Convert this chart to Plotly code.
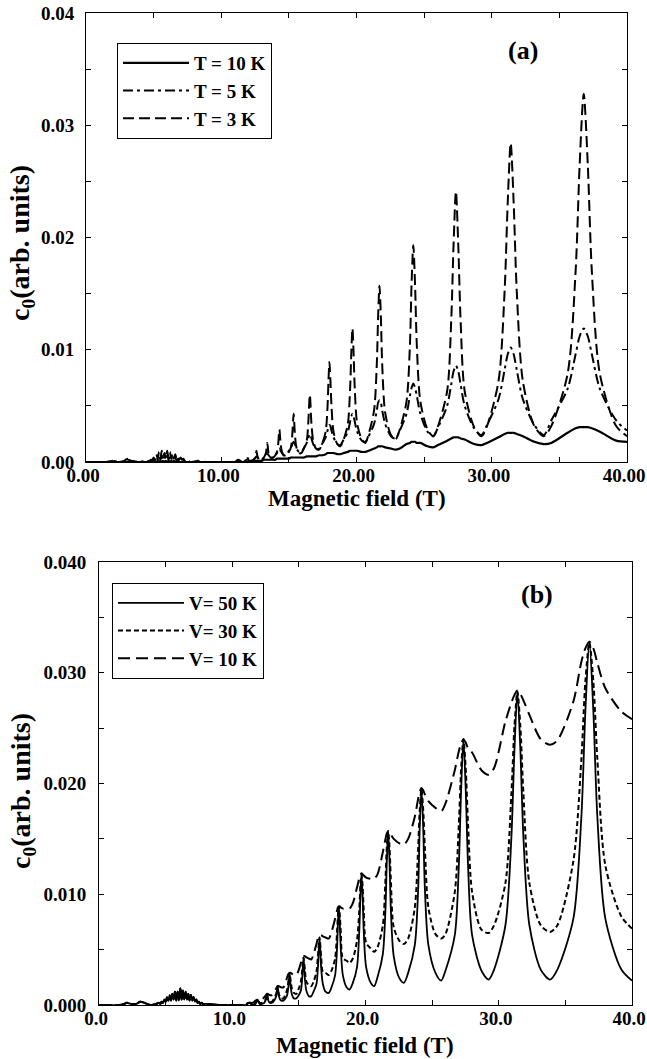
import plotly.graph_objects as go

# Magnetic field grid (T), shared by every curve
field_T = [
    0.0, 1.5, 1.9, 2.1, 2.4, 2.8, 3.1, 3.4, 3.9, 4.3,
    4.5, 4.6, 4.7, 4.8, 4.9, 5.0, 5.1, 5.2, 5.3, 5.4, 5.5, 5.6, 5.7, 5.8, 5.9, 6.0, 6.1,
    6.2, 6.3, 6.4, 6.5, 6.6, 6.7, 6.8, 6.9, 7.0, 7.1, 7.2, 7.3, 7.4, 7.5, 7.6, 7.7, 7.8,
    8.2, 9.0, 10.0, 10.5, 11.0, 11.25, 11.55, 11.75, 11.9, 12.05,
    12.23, 12.4, 12.53, 12.6, 12.68, 12.8, 12.99, 13.15, 13.3, 13.4, 13.5, 13.65,
    13.84, 14.0, 14.12, 14.21, 14.3, 14.39, 14.49, 14.62,
    14.81, 15.0, 15.15, 15.25, 15.35, 15.45, 15.56, 15.75,
    15.93, 16.1, 16.32, 16.43, 16.55, 16.67, 16.8, 17.0,
    17.24, 17.45, 17.72, 17.86, 17.93, 18.0, 18.07, 18.15, 18.3, 18.58,
    18.8, 19.05, 19.36, 19.53, 19.62, 19.7, 19.78, 19.87, 20.05, 20.4,
    20.65, 20.9, 21.3, 21.5, 21.6, 21.7, 21.8, 21.9, 22.12, 22.55,
    22.88, 23.2, 23.7, 23.95, 24.07, 24.2, 24.33, 24.46, 24.72, 25.25,
    25.68, 26.0, 26.7, 27.0, 27.18, 27.35, 27.52, 27.7, 28.0, 28.7,
    29.24, 29.65, 30.5, 30.95, 31.18, 31.4, 31.62, 31.85, 32.3, 33.15,
    33.85, 34.4, 35.6, 36.2, 36.5, 36.8, 37.1, 37.4, 38.0, 39.2, 40.0,
]

# Panel (a): temperature series
c0_T10 = [
    0, 0, 0, 0, 0, 0, 0, 0, 0, 0,
    0, 0, 0, 0, 0, 0, 0, 0, 0.0001, 0, 0.0001, 0, 0.0001, 0, 0.0001, 0, 0.0001,
    0, 0.0001, 0, 0.0001, 0, 0, 0, 0, 0, 0, 0, 0, 0, 0, 0, 0, 0,
    0, 0, 0, 0, 0, 0, 0, 0, 0, 0.0001,
    0.0001, 0.0001, 0.0001, 0.0001, 0.0001, 0.0001, 0.0001, 0.0002, 0.0002, 0.0002, 0.0002, 0.0002,
    0.0002, 0.0002, 0.0003, 0.0003, 0.0003, 0.0003, 0.0003, 0.0003,
    0.0003, 0.0003, 0.0004, 0.0004, 0.0004, 0.0004, 0.0004, 0.0004,
    0.0004, 0.0004, 0.0005, 0.0005, 0.0005, 0.0005, 0.0005, 0.0005,
    0.0006, 0.0006, 0.0007, 0.0008, 0.0008, 0.0008, 0.0008, 0.0008, 0.0008, 0.0007,
    0.0007, 0.0008, 0.0009, 0.0010, 0.0010, 0.0010, 0.0010, 0.0010, 0.0010, 0.0009,
    0.0009, 0.0010, 0.0012, 0.0013, 0.0014, 0.0014, 0.0014, 0.0014, 0.0013, 0.0012,
    0.0011, 0.0012, 0.0016, 0.0017, 0.0018, 0.0018, 0.0018, 0.0017, 0.0017, 0.0014,
    0.0013, 0.0015, 0.0019, 0.0021, 0.0022, 0.0022, 0.0022, 0.0021, 0.0020, 0.0016,
    0.0015, 0.0017, 0.0022, 0.0025, 0.0026, 0.0026, 0.0026, 0.0025, 0.0023, 0.0018,
    0.0016, 0.0017, 0.0026, 0.0030, 0.0031, 0.0031, 0.0031, 0.0030, 0.0027, 0.0019, 0.0018,
]

c0_T5 = [
    0, 0, 0, 0.0001, 0, 0, 0.0002, 0.0001, 0, 0,
    0, 0.0001, 0, 0.0001, 0.0001, 0.0002, 0.0001, 0.0004, 0.0002, 0.0005, 0.0002, 0.0006, 0.0002, 0.0005, 0.0002, 0.0006, 0.0002,
    0.0005, 0.0002, 0.0004, 0.0002, 0.0004, 0.0001, 0.0003, 0.0001, 0.0002, 0.0001, 0.0001, 0.0001, 0, 0, 0, 0, 0,
    0, 0, 0, 0, 0, 0.0001, 0, 0.0001, 0.0002, 0.0001,
    0.0001, 0.0002, 0.0004, 0.0005, 0.0004, 0.0002, 0.0002, 0.0004, 0.0006, 0.0008, 0.0006, 0.0004,
    0.0004, 0.0006, 0.0008, 0.0010, 0.0012, 0.0010, 0.0008, 0.0006,
    0.0006, 0.0010, 0.0012, 0.0016, 0.0018, 0.0016, 0.0012, 0.0009,
    0.0009, 0.0012, 0.0017, 0.0021, 0.0025, 0.0021, 0.0016, 0.0012,
    0.0012, 0.0016, 0.0022, 0.0028, 0.0032, 0.0033, 0.0032, 0.0028, 0.0022, 0.0016,
    0.0015, 0.0020, 0.0027, 0.0036, 0.0041, 0.0043, 0.0041, 0.0036, 0.0027, 0.0019,
    0.0018, 0.0023, 0.0034, 0.0046, 0.0053, 0.0055, 0.0053, 0.0046, 0.0034, 0.0023,
    0.0021, 0.0028, 0.0043, 0.0059, 0.0066, 0.0070, 0.0066, 0.0059, 0.0043, 0.0027,
    0.0023, 0.0030, 0.0050, 0.0069, 0.0081, 0.0086, 0.0081, 0.0069, 0.0050, 0.0030,
    0.0024, 0.0033, 0.0056, 0.0082, 0.0096, 0.0102, 0.0096, 0.0082, 0.0056, 0.0033,
    0.0024, 0.0037, 0.0065, 0.0096, 0.0112, 0.0119, 0.0112, 0.0096, 0.0065, 0.0037, 0.0028,
]

c0_T3 = [
    0, 0, 0.0001, 0.0001, 0, 0.0001, 0.0003, 0.0001, 0, 0.0001,
    0.0001, 0.0001, 0.0001, 0.0002, 0.0002, 0.0004, 0.0002, 0.0007, 0.0003, 0.0009, 0.0003, 0.0010, 0.0004, 0.0008, 0.0003, 0.0010, 0.0004,
    0.0009, 0.0003, 0.0008, 0.0003, 0.0007, 0.0003, 0.0005, 0.0002, 0.0004, 0.0002, 0.0003, 0.0001, 0.0001, 0.0001, 0.0001, 0, 0,
    0.0001, 0, 0, 0, 0, 0.0002, 0, 0.0001, 0.0005, 0.0001,
    0.0001, 0.0002, 0.0005, 0.0010, 0.0005, 0.0002, 0.0002, 0.0004, 0.0008, 0.0017, 0.0008, 0.0004,
    0.0004, 0.0006, 0.0009, 0.0016, 0.0029, 0.0016, 0.0009, 0.0006,
    0.0006, 0.0009, 0.0013, 0.0024, 0.0043, 0.0024, 0.0013, 0.0008,
    0.0008, 0.0012, 0.0019, 0.0034, 0.0060, 0.0034, 0.0019, 0.0012,
    0.0011, 0.0016, 0.0027, 0.0050, 0.0073, 0.0089, 0.0073, 0.0050, 0.0027, 0.0016,
    0.0014, 0.0020, 0.0034, 0.0066, 0.0099, 0.0119, 0.0099, 0.0066, 0.0034, 0.0020,
    0.0017, 0.0025, 0.0046, 0.0087, 0.0130, 0.0157, 0.0130, 0.0087, 0.0044, 0.0024,
    0.0020, 0.0029, 0.0054, 0.0104, 0.0158, 0.0193, 0.0158, 0.0104, 0.0054, 0.0029,
    0.0023, 0.0031, 0.0063, 0.0125, 0.0195, 0.0241, 0.0195, 0.0125, 0.0063, 0.0031,
    0.0023, 0.0032, 0.0072, 0.0152, 0.0231, 0.0284, 0.0231, 0.0152, 0.0072, 0.0032,
    0.0023, 0.0032, 0.0078, 0.0170, 0.0265, 0.0328, 0.0265, 0.0170, 0.0078, 0.0032, 0.0023,
]

# Panel (b): V series
c0_V50 = [
    0, 0, 0.0001, 0.0002, 0.0001, 0.0001, 0.0003, 0.0002, 0, 0.0001,
    0.0002, 0.0001, 0.0003, 0.0002, 0.0005, 0.0003, 0.0007, 0.0004, 0.0009, 0.0004, 0.0010, 0.0005, 0.0012, 0.0004, 0.0012, 0.0004, 0.0015,
    0.0005, 0.0013, 0.0005, 0.0012, 0.0005, 0.0010, 0.0004, 0.0009, 0.0004, 0.0007, 0.0003, 0.0005, 0.0002, 0.0003, 0.0001, 0.0002, 0.0001,
    0.0001, 0, 0, 0, 0, 0.0002, 0, 0.0001, 0.0005, 0.0001,
    0.0001, 0.0002, 0.0005, 0.0010, 0.0005, 0.0002, 0.0002, 0.0004, 0.0008, 0.0017, 0.0008, 0.0004,
    0.0004, 0.0006, 0.0009, 0.0016, 0.0029, 0.0016, 0.0009, 0.0006,
    0.0006, 0.0009, 0.0013, 0.0024, 0.0043, 0.0024, 0.0013, 0.0008,
    0.0008, 0.0012, 0.0019, 0.0034, 0.0061, 0.0034, 0.0019, 0.0012,
    0.0011, 0.0016, 0.0027, 0.0050, 0.0073, 0.0089, 0.0073, 0.0050, 0.0027, 0.0016,
    0.0014, 0.0020, 0.0034, 0.0066, 0.0099, 0.0118, 0.0099, 0.0066, 0.0034, 0.0020,
    0.0017, 0.0025, 0.0046, 0.0087, 0.0130, 0.0157, 0.0130, 0.0087, 0.0044, 0.0024,
    0.0020, 0.0029, 0.0054, 0.0104, 0.0160, 0.0195, 0.0160, 0.0104, 0.0054, 0.0029,
    0.0022, 0.0031, 0.0063, 0.0125, 0.0195, 0.0240, 0.0195, 0.0125, 0.0063, 0.0031,
    0.0023, 0.0032, 0.0072, 0.0152, 0.0231, 0.0283, 0.0231, 0.0152, 0.0072, 0.0032,
    0.0023, 0.0032, 0.0078, 0.0170, 0.0265, 0.0328, 0.0265, 0.0170, 0.0078, 0.0032, 0.0022,
]

c0_V30 = [
    0, 0, 0.0001, 0.0002, 0.0001, 0.0001, 0.0003, 0.0002, 0, 0.0001,
    0.0002, 0.0001, 0.0003, 0.0002, 0.0005, 0.0003, 0.0007, 0.0004, 0.0009, 0.0004, 0.0010, 0.0005, 0.0012, 0.0004, 0.0012, 0.0004, 0.0015,
    0.0005, 0.0013, 0.0005, 0.0012, 0.0005, 0.0010, 0.0004, 0.0009, 0.0004, 0.0007, 0.0003, 0.0005, 0.0002, 0.0003, 0.0001, 0.0002, 0.0001,
    0.0001, 0, 0, 0, 0, 0.0002, 0.0001, 0.0002, 0.0005, 0.0002,
    0.0002, 0.0003, 0.0006, 0.0010, 0.0006, 0.0003, 0.0003, 0.0006, 0.0010, 0.0017, 0.0010, 0.0006,
    0.0006, 0.0010, 0.0014, 0.0021, 0.0029, 0.0021, 0.0014, 0.0011,
    0.0010, 0.0015, 0.0021, 0.0032, 0.0043, 0.0032, 0.0021, 0.0018,
    0.0017, 0.0021, 0.0030, 0.0044, 0.0061, 0.0044, 0.0030, 0.0029,
    0.0027, 0.0031, 0.0042, 0.0065, 0.0081, 0.0089, 0.0081, 0.0065, 0.0042, 0.0040,
    0.0038, 0.0042, 0.0058, 0.0085, 0.0108, 0.0118, 0.0108, 0.0085, 0.0056, 0.0051,
    0.0048, 0.0052, 0.0072, 0.0114, 0.0143, 0.0157, 0.0143, 0.0114, 0.0070, 0.0058,
    0.0055, 0.0060, 0.0088, 0.0141, 0.0176, 0.0195, 0.0176, 0.0141, 0.0088, 0.0064,
    0.0060, 0.0064, 0.0102, 0.0162, 0.0214, 0.0240, 0.0214, 0.0162, 0.0102, 0.0068,
    0.0065, 0.0072, 0.0110, 0.0191, 0.0252, 0.0283, 0.0252, 0.0191, 0.0110, 0.0072,
    0.0066, 0.0072, 0.0130, 0.0222, 0.0292, 0.0327, 0.0292, 0.0222, 0.0126, 0.0080, 0.0069,
]

c0_V10 = [
    0, 0, 0.0001, 0.0002, 0.0001, 0.0001, 0.0003, 0.0002, 0, 0.0001,
    0.0002, 0.0001, 0.0003, 0.0002, 0.0005, 0.0003, 0.0007, 0.0004, 0.0009, 0.0004, 0.0010, 0.0005, 0.0012, 0.0004, 0.0012, 0.0004, 0.0015,
    0.0005, 0.0013, 0.0005, 0.0012, 0.0005, 0.0010, 0.0004, 0.0009, 0.0004, 0.0007, 0.0003, 0.0005, 0.0002, 0.0003, 0.0001, 0.0002, 0.0001,
    0.0001, 0, 0, 0, 0.0001, 0.0002, 0.0002, 0.0004, 0.0005, 0.0005,
    0.0005, 0.0007, 0.0009, 0.0010, 0.0010, 0.0009, 0.0009, 0.0012, 0.0015, 0.0017, 0.0017, 0.0016,
    0.0016, 0.0020, 0.0025, 0.0028, 0.0029, 0.0029, 0.0028, 0.0027,
    0.0027, 0.0032, 0.0038, 0.0042, 0.0044, 0.0044, 0.0043, 0.0042,
    0.0041, 0.0046, 0.0055, 0.0060, 0.0063, 0.0063, 0.0062, 0.0061,
    0.0060, 0.0066, 0.0078, 0.0085, 0.0088, 0.0089, 0.0089, 0.0088, 0.0087, 0.0087,
    0.0087, 0.0092, 0.0106, 0.0114, 0.0117, 0.0119, 0.0118, 0.0117, 0.0115, 0.0114,
    0.0114, 0.0118, 0.0138, 0.0150, 0.0155, 0.0157, 0.0156, 0.0154, 0.0150, 0.0146,
    0.0145, 0.0150, 0.0170, 0.0186, 0.0192, 0.0196, 0.0194, 0.0190, 0.0184, 0.0178,
    0.0175, 0.0182, 0.0212, 0.0229, 0.0236, 0.0240, 0.0237, 0.0232, 0.0228, 0.0212,
    0.0208, 0.0214, 0.0256, 0.0273, 0.0280, 0.0284, 0.0281, 0.0275, 0.0262, 0.0240,
    0.0235, 0.0239, 0.0274, 0.0310, 0.0322, 0.0328, 0.0322, 0.0309, 0.0286, 0.0265, 0.0258,
]

for s in (c0_T10, c0_T5, c0_T3, c0_V50, c0_V30, c0_V10):
    assert len(s) == len(field_T), len(s)

FONT = "Liberation Serif"
W, H = 647, 1059

fig = go.Figure()

series_a = [
    ("T = 10 K", c0_T10, "solid", 2.2),
    ("T = 5 K", c0_T5, "10px,4px,3px,4px", 2.0),
    ("T = 3 K", c0_T3, "11px,5px", 2.0),
]
series_b = [
    ("V= 50 K", c0_V50, "solid", 1.8),
    ("V= 30 K", c0_V30, "5px,3px", 2.0),
    ("V= 10 K", c0_V10, "12px,6px", 2.0),
]
for name, ys, dash, lw in series_a:
    fig.add_trace(go.Scatter(x=field_T, y=ys, name=name, mode="lines",
                             line=dict(color="black", width=lw, dash=dash, shape="spline", smoothing=0.8),
                             xaxis="x", yaxis="y", legend="legend"))
for name, ys, dash, lw in series_b:
    fig.add_trace(go.Scatter(x=field_T, y=ys, name=name, mode="lines",
                             line=dict(color="black", width=lw, dash=dash, shape="spline", smoothing=0.8),
                             xaxis="x2", yaxis="y2", legend="legend2"))

tickfont = dict(family=FONT, size=19, color="black", weight="bold")
common = dict(showline=True, linecolor="black", linewidth=1, mirror="ticks",
              ticks="inside", ticklen=5, tickwidth=1, tickcolor="black",
              minor=dict(ticks="inside", ticklen=5, tickwidth=1, tickcolor="black", showgrid=False),
              showgrid=False, zeroline=False, tickfont=tickfont, automargin=False,
              ticklabeloverflow="allow")

legend_font = dict(family=FONT, size=19, color="black", weight="bold")
fig.update_layout(
    width=W, height=H,
    margin=dict(l=0, r=0, t=0, b=0),
    paper_bgcolor="white", plot_bgcolor="white",
    xaxis=dict(domain=[86 / W, 627 / W], range=[0, 40], anchor="y",
               tick0=0, dtick=10, tickformat=".2f", ticklabelstandoff=-4, **common),
    yaxis=dict(domain=[1 - 462 / H, 1 - 13 / H], range=[0, 0.04], anchor="x",
               tick0=0, dtick=0.01, tickformat=".2f", ticklabelstandoff=7, **common),
    xaxis2=dict(domain=[99 / W, 632 / W], range=[0, 40], anchor="y2",
                tick0=0, dtick=10, tickformat=".1f", ticklabelstandoff=-4, **common),
    yaxis2=dict(domain=[1 - 1005 / H, 1 - 562 / H], range=[0, 0.04], anchor="x2",
                tick0=0, dtick=0.01, tickformat=".3f", ticklabelstandoff=8, **common),
    legend=dict(x=117 / W, y=1 - 43 / H, xanchor="left", yanchor="top",
                bordercolor="black", borderwidth=1, bgcolor="white",
                font=legend_font, itemwidth=66, tracegroupgap=0),
    legend2=dict(x=112 / W, y=1 - 583 / H, xanchor="left", yanchor="top",
                 bordercolor="black", borderwidth=1, bgcolor="white",
                 font=legend_font, itemwidth=66, tracegroupgap=0),
    showlegend=True,
)
fig.update_xaxes(minor_dtick=5, ticklabelshift=-3)
fig.update_yaxes(minor_dtick=0.005)

title_font = dict(family=FONT, size=23, color="black", weight="bold")
ytitle_font = dict(family=FONT, size=28, color="black", weight="bold")
fig.add_annotation(text="Magnetic field (T)", x=356.5 / W, y=1 - 498 / H, font=title_font)
fig.add_annotation(text="Magnetic field (T)", x=365.5 / W, y=1 - 1045 / H, font=title_font)
fig.add_annotation(text="c<sub>0</sub>(arb. units)", x=22 / W, y=1 - 243 / H,
                   textangle=-90, font=ytitle_font)
fig.add_annotation(text="c<sub>0</sub>(arb. units)", x=22 / W, y=1 - 791 / H,
                   textangle=-90, font=ytitle_font)

panel_font = dict(family=FONT, size=26, color="black", weight="bold")
fig.add_annotation(text="(a)", x=523 / W, y=1 - 51 / H, font=panel_font)
fig.add_annotation(text="(b)", x=537 / W, y=1 - 594 / H, font=panel_font)
fig.update_annotations(xref="paper", yref="paper", showarrow=False,
                       xanchor="center", yanchor="middle")

fig.write_html("out.html", config={"displayModeBar": False},
               post_script="document.body.style.margin='0px';document.body.style.overflow='hidden';")
